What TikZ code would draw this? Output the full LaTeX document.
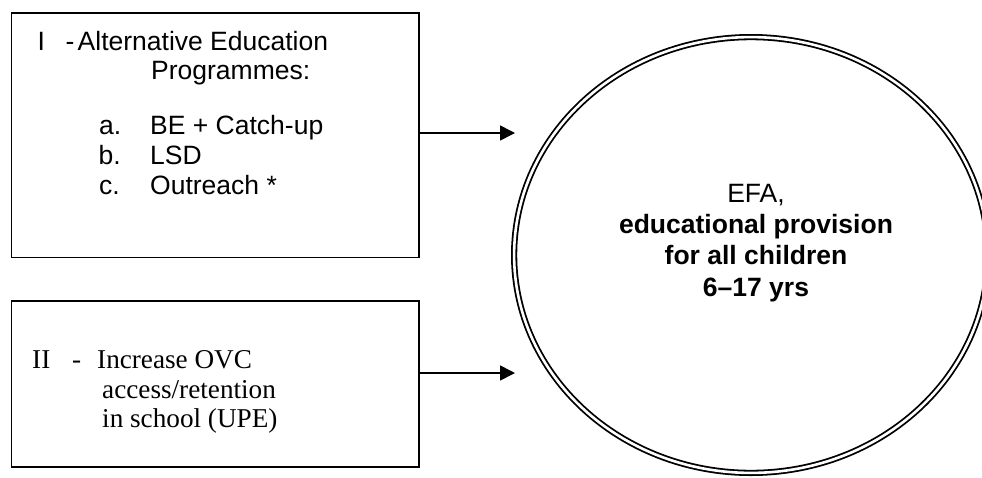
\documentclass[tikz,border=0pt]{standalone}
\usepackage{fontspec}
\setmainfont{Liberation Sans}
\newfontfamily\serifbody{Liberation Serif}
\usetikzlibrary{arrows.meta,shapes.geometric}

\tikzset{
  panel/.style={draw=black, line width=1.6pt, rectangle, inner sep=0pt},
  goal/.style={draw=black, line width=1.8pt, double=white, double distance=2.6pt,
               ellipse, inner sep=0pt},
  feed/.style={line width=1.6pt, -{Triangle[length=15pt,width=15pt]}},
  sanstext/.style={anchor=base west, inner sep=0pt,
                   font=\fontsize{26.5}{30}\selectfont},
  seriftext/.style={anchor=base west, inner sep=0pt,
                    font=\serifbody\fontsize{27.2}{30}\selectfont},
  goaltext/.style={anchor=base, inner sep=0pt,
                   font=\fontsize{26.5}{31}\selectfont}
}

\begin{document}
\begin{tikzpicture}[x=1pt, y=-1pt]
  \useasboundingbox (0,0) rectangle (982,477);

  % the two programme boxes
  \node[panel, minimum width=407.5pt, minimum height=244.5pt] (progA) at (215.25,135.25) {};
  \node[panel, minimum width=407.5pt, minimum height=166pt] (progB) at (215.25,384) {};

  % the goal (runs slightly past the right and bottom edges)
  \node[goal, minimum width=473.8pt, minimum height=435.8pt] (efa) at (751,255) {};

  % box I
  \node[sanstext] (aNum)  at (37.5,50) {I};
  \node[sanstext] (aDash) at (65.5,50) {-};
  \node[sanstext] (aHead) at (77.5,50) {Alternative Education};
  \node[sanstext] (aSub)  at (151,79)  {Programmes:};
  \node[sanstext] (aItA)  at (99,134)  {a.};
  \node[sanstext] (aTxA)  at (150,134) {BE + Catch-up};
  \node[sanstext] (aItB)  at (98.5,164) {b.};
  \node[sanstext] (aTxB)  at (150,164) {LSD};
  \node[sanstext] (aItC)  at (99,194)  {c.};
  \node[sanstext] (aTxC)  at (150,194) {Outreach *};

  % box II
  \node[seriftext] (bNum)  at (32,368)  {II};
  \node[seriftext] (bDash) at (72,368)  {-};
  \node[seriftext] (bL1)   at (97,368)  {Increase OVC};
  \node[seriftext] (bL2)   at (102,398) {access/retention};
  \node[seriftext] (bL3)   at (102,427) {in school (UPE)};

  % text inside the goal
  \node[goaltext] (g1) at (756,202) {EFA,};
  \node[goaltext] (g2) at (756,233) {\bfseries educational provision};
  \node[goaltext] (g3) at (756,264) {\bfseries for all children};
  \node[goaltext] (g4) at (756,296) {\bfseries 6–17 yrs};

  % connectors
  \coordinate (tipA) at (515,133);
  \coordinate (tipB) at (515,373);
  \draw[feed] (progA.east |- tipA) -- (tipA);
  \draw[feed] (progB.east |- tipB) -- (tipB);
\end{tikzpicture}
\end{document}
